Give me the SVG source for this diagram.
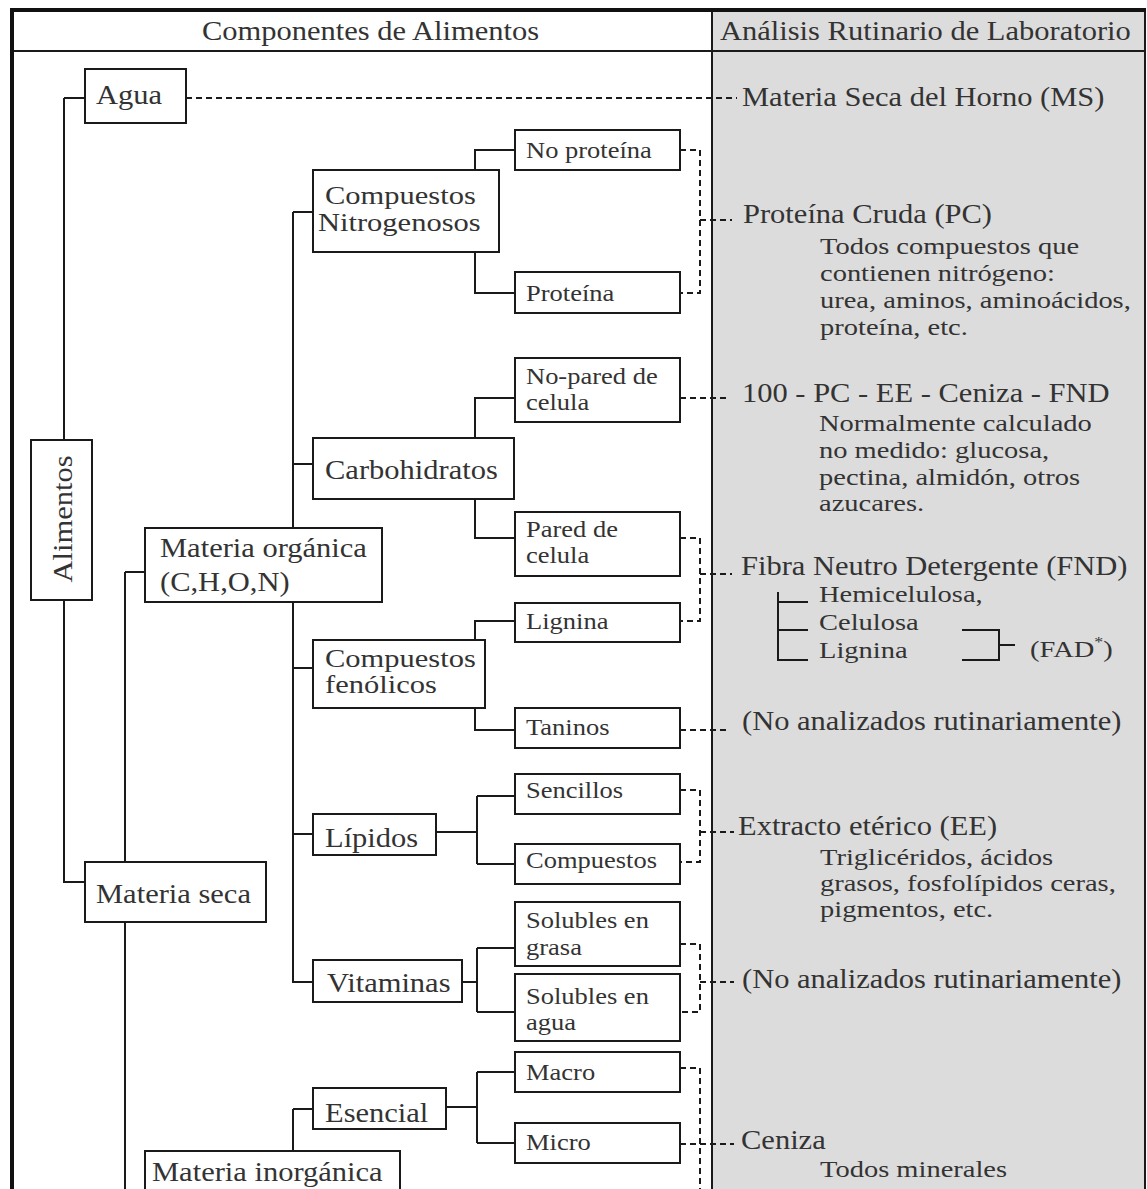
<svg xmlns="http://www.w3.org/2000/svg" width="1147" height="1189" viewBox="0 0 1147 1189">
<style>
.box{fill:#fff;stroke:#1a1a1a;stroke-width:2}
.ln{fill:none;stroke:#1a1a1a;stroke-width:2}
.ds{fill:none;stroke:#1a1a1a;stroke-width:2;stroke-dasharray:6 4}
text{font-family:"Liberation Serif","Times New Roman",serif;fill:#333}
.m{font-size:28px}
.t{font-size:24.5px}
.s{font-size:24px}
.b{font-size:23.5px}
</style>
<rect x="0" y="0" width="1147" height="1189" fill="#fff"/>
<rect x="712" y="10" width="433" height="1179" fill="#dcdcdc"/>
<g id="frame">
<path class="ln" d="M12,51 H1145"/>
<path class="ln" d="M712,10 V1189"/>
<path class="ln" d="M1145,10 V1189"/>
<path fill="none" stroke="#111" stroke-width="4" d="M12,8 V1189 M10,10 H1146"/>
<text class="m" transform="matrix(1.09,0,0,1,202,40)">Componentes de Alimentos</text>
<text class="m" transform="matrix(1.09,0,0,1,720,40)">Análisis Rutinario de Laboratorio</text>
</g>
<g id="connectors">
<path class="ln" d="M64,98 H85 M64,98 V440 M64,600 V882 H85"/>
<path class="ln" d="M293,212 H313 M293,212 V528 M293,464 H313 M293,602 V982 H313 M293,668 H313 M293,834 H313 M293,1109 H313 M293,1109 V1151"/>
<path class="ln" d="M125,572 H145 M125,572 V862 M125,922 V1189"/>
<path class="ln" d="M475,170 V150 H515 M475,252 V293 H515"/>
<path class="ln" d="M475,438 V398 H515 M475,499 V538 H515"/>
<path class="ln" d="M475,640 V621 H515 M475,708 V730 H515"/>
<path class="ln" d="M436,832 H477 M477,796 V864 M477,796 H515 M477,864 H515"/>
<path class="ln" d="M462,982 H477 M477,948 V1012 M477,948 H515 M477,1012 H515"/>
<path class="ln" d="M446,1107 H477 M477,1072 V1143 M477,1072 H515 M477,1143 H515"/>
<path class="ln" d="M778,592 V660 H808 M778,602 H808 M778,630 H808"/>
<path class="ln" d="M962,630 H999 V660 H962 M999,645 H1015"/>
<path class="ds" d="M186,98 H737"/>
<path class="ds" d="M680,150 H700 V293 H680 M700,220 H732"/>
<path class="ds" d="M680,398 H730"/>
<path class="ds" d="M680,538 H700 V621 H680 M700,574 H732"/>
<path class="ds" d="M680,730 H727"/>
<path class="ds" d="M680,790 H700 V862 H680 M700,832 H734"/>
<path class="ds" d="M680,944 H700 V1012 H680 M700,982 H734"/>
<path class="ds" d="M680,1068 H700 V1189 M680,1144 H734"/>
</g>
<g id="agua"><rect class="box" x="85" y="69" width="101" height="54"/><text class="m" transform="matrix(1.09,0,0,1,96,104)">Agua</text></g>
<g id="alimentos"><rect class="box" x="31" y="440" width="61" height="160"/><text class="m" text-anchor="middle" transform="translate(72,519) rotate(-90) scale(1.09,1)">Alimentos</text></g>
<g id="comp-nitro"><rect class="box" x="313" y="170" width="186" height="82"/><text class="t" transform="matrix(1.245,0,0,1,325,204)">Compuestos</text><text class="t" transform="matrix(1.245,0,0,1,318,231)">Nitrogenosos</text></g>
<g id="no-proteina"><rect class="box" x="515" y="130" width="165" height="40"/><text class="b" transform="matrix(1.128,0,0,1,526,158)">No proteína</text></g>
<g id="proteina"><rect class="box" x="515" y="272" width="165" height="41"/><text class="b" transform="matrix(1.128,0,0,1,526,301)">Proteína</text></g>
<g id="carbohidratos"><rect class="box" x="313" y="438" width="201" height="61"/><text class="m" transform="matrix(1.09,0,0,1,325,479)">Carbohidratos</text></g>
<g id="no-pared"><rect class="box" x="515" y="358" width="165" height="64"/><text class="b" transform="matrix(1.128,0,0,1,526,384)">No-pared de</text><text class="b" transform="matrix(1.128,0,0,1,526,410)">celula</text></g>
<g id="pared"><rect class="box" x="515" y="512" width="165" height="64"/><text class="b" transform="matrix(1.128,0,0,1,526,537)">Pared de</text><text class="b" transform="matrix(1.128,0,0,1,526,563)">celula</text></g>
<g id="materia-organica"><rect class="box" x="145" y="528" width="237" height="74"/><text class="m" transform="matrix(1.09,0,0,1,160,557)">Materia orgánica</text><text class="m" transform="matrix(1.09,0,0,1,160,591)">(C,H,O,N)</text></g>
<g id="lignina"><rect class="box" x="515" y="603" width="165" height="39"/><text class="b" transform="matrix(1.128,0,0,1,526,629)">Lignina</text></g>
<g id="comp-fenolicos"><rect class="box" x="313" y="640" width="172" height="68"/><text class="t" transform="matrix(1.245,0,0,1,325,667)">Compuestos</text><text class="t" transform="matrix(1.245,0,0,1,325,693)">fenólicos</text></g>
<g id="taninos"><rect class="box" x="515" y="708" width="165" height="40"/><text class="b" transform="matrix(1.128,0,0,1,526,735)">Taninos</text></g>
<g id="lipidos"><rect class="box" x="313" y="814" width="123" height="41"/><text class="m" transform="matrix(1.09,0,0,1,325,847)">Lípidos</text></g>
<g id="sencillos"><rect class="box" x="515" y="774" width="165" height="40"/><text class="b" transform="matrix(1.128,0,0,1,526,798)">Sencillos</text></g>
<g id="compuestos"><rect class="box" x="515" y="844" width="165" height="40"/><text class="b" transform="matrix(1.128,0,0,1,526,868)">Compuestos</text></g>
<g id="materia-seca"><rect class="box" x="85" y="862" width="181" height="60"/><text class="m" transform="matrix(1.09,0,0,1,96,903)">Materia seca</text></g>
<g id="sol-grasa"><rect class="box" x="515" y="902" width="165" height="64"/><text class="b" transform="matrix(1.128,0,0,1,526,928)">Solubles en</text><text class="b" transform="matrix(1.128,0,0,1,526,955)">grasa</text></g>
<g id="vitaminas"><rect class="box" x="313" y="960" width="149" height="42"/><text class="m" transform="matrix(1.09,0,0,1,327,992)">Vitaminas</text></g>
<g id="sol-agua"><rect class="box" x="515" y="974" width="165" height="67"/><text class="b" transform="matrix(1.128,0,0,1,526,1004)">Solubles en</text><text class="b" transform="matrix(1.128,0,0,1,526,1030)">agua</text></g>
<g id="macro"><rect class="box" x="515" y="1052" width="165" height="40"/><text class="b" transform="matrix(1.128,0,0,1,526,1080)">Macro</text></g>
<g id="esencial"><rect class="box" x="313" y="1088" width="133" height="41"/><text class="m" transform="matrix(1.09,0,0,1,325,1122)">Esencial</text></g>
<g id="micro"><rect class="box" x="515" y="1123" width="165" height="40"/><text class="b" transform="matrix(1.128,0,0,1,526,1150)">Micro</text></g>
<g id="materia-inorganica"><rect class="box" x="145" y="1151" width="255" height="60"/><text class="m" transform="matrix(1.09,0,0,1,152,1181)">Materia inorgánica</text></g>
<g id="an-ms"><text class="m" transform="matrix(1.09,0,0,1,742,106)">Materia Seca del Horno (MS)</text></g>
<g id="an-pc"><text class="m" transform="matrix(1.09,0,0,1,743,223)">Proteína Cruda (PC)</text>
<text class="s" transform="matrix(1.1875,0,0,1,820,254)">Todos compuestos que</text>
<text class="s" transform="matrix(1.1875,0,0,1,820,281)">contienen nitrógeno:</text>
<text class="s" transform="matrix(1.1875,0,0,1,820,308)">urea, aminos, aminoácidos,</text>
<text class="s" transform="matrix(1.1875,0,0,1,820,335)">proteína, etc.</text></g>
<g id="an-cnf"><text class="m" transform="matrix(1.09,0,0,1,742,402)">100 - PC - EE - Ceniza - FND</text>
<text class="s" transform="matrix(1.1875,0,0,1,819,431)">Normalmente calculado</text>
<text class="s" transform="matrix(1.1875,0,0,1,819,458)">no medido: glucosa,</text>
<text class="s" transform="matrix(1.1875,0,0,1,819,485)">pectina, almidón, otros</text>
<text class="s" transform="matrix(1.1875,0,0,1,819,511)">azucares.</text></g>
<g id="an-fnd"><text class="m" transform="matrix(1.09,0,0,1,741,575)">Fibra Neutro Detergente (FND)</text>
<text class="s" transform="matrix(1.1875,0,0,1,819,602)">Hemicelulosa,</text>
<text class="s" transform="matrix(1.1875,0,0,1,819,630)">Celulosa</text>
<text class="s" transform="matrix(1.1875,0,0,1,819,658)">Lignina</text>
<text class="s" transform="matrix(1.1875,0,0,1,1030,657)">(FAD<tspan font-size="15" dy="-10">*</tspan><tspan dy="10">)</tspan></text></g>
<g id="an-taninos"><text class="m" transform="matrix(1.09,0,0,1,742,730)">(No analizados rutinariamente)</text></g>
<g id="an-ee"><text class="m" transform="matrix(1.09,0,0,1,738,835)">Extracto etérico (EE)</text>
<text class="s" transform="matrix(1.1875,0,0,1,820,865)">Triglicéridos, ácidos</text>
<text class="s" transform="matrix(1.1875,0,0,1,820,891)">grasos, fosfolípidos ceras,</text>
<text class="s" transform="matrix(1.1875,0,0,1,820,917)">pigmentos, etc.</text></g>
<g id="an-vit"><text class="m" transform="matrix(1.09,0,0,1,742,988)">(No analizados rutinariamente)</text></g>
<g id="an-ceniza"><text class="m" transform="matrix(1.09,0,0,1,741,1149)">Ceniza</text>
<text class="s" transform="matrix(1.1875,0,0,1,820,1177)">Todos minerales</text></g>
</svg>
